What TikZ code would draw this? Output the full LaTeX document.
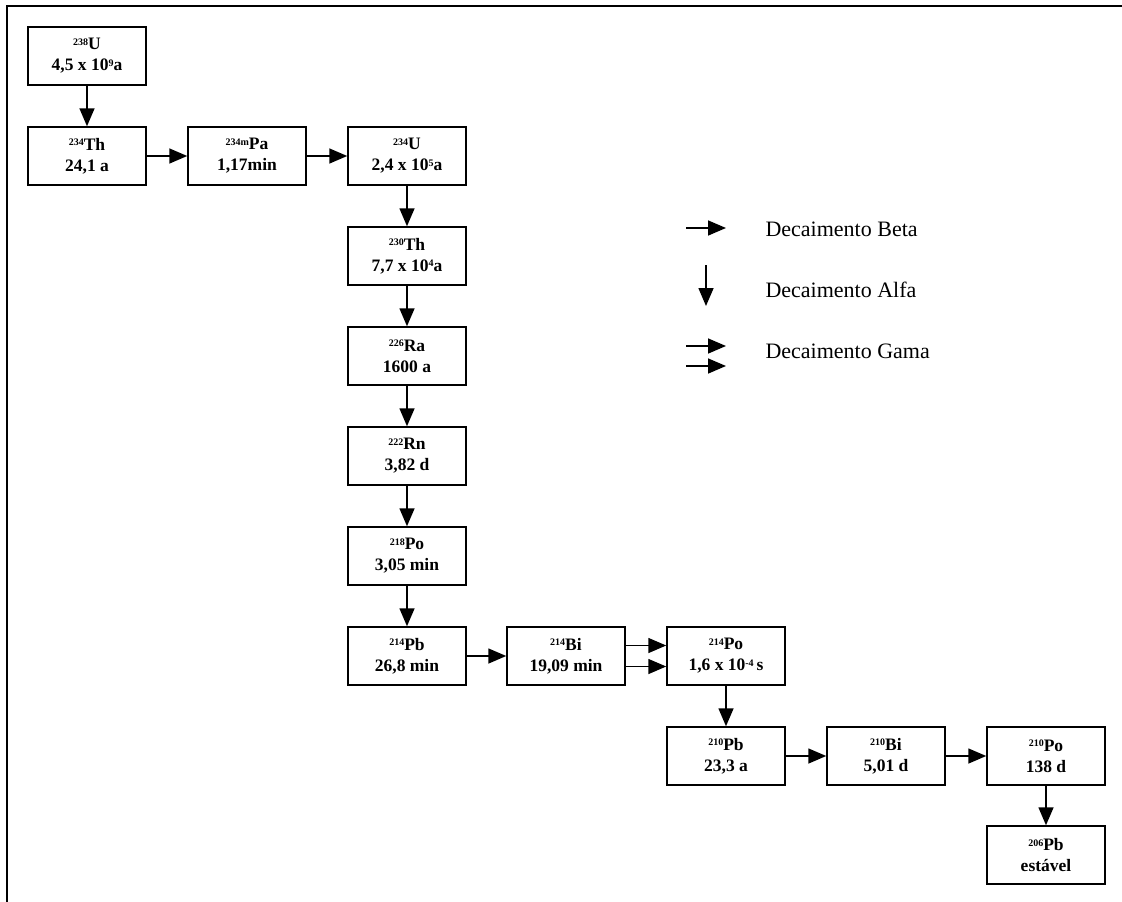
\documentclass[tikz,border=0pt]{standalone}
\usepackage{fontspec}
\setmainfont{Liberation Serif}
\usetikzlibrary{arrows.meta}
\newcommand{\iso}[2]{\raisebox{0.55ex}{\fontsize{10}{10}\selectfont #1}#2}
\newcommand{\pot}[1]{\raisebox{0.55ex}{\fontsize{10}{10}\selectfont #1}}

\begin{document}
\begin{tikzpicture}[
  x=1pt,
  y=-1pt,
  nuclide/.style={draw, line width=1.5pt, minimum width=118pt, minimum height=58pt,
    inner sep=0pt, align=center, font=\fontsize{17.5}{21}\selectfont\bfseries},
  decay/.style={-{Triangle[length=18pt,width=15pt]}, line width=1.6pt},
  legend/.style={anchor=west, font=\fontsize{22}{24}\selectfont}
]
  \useasboundingbox (0,0) rectangle (1122,902);
  \fill[white] (0,0) rectangle (1122,902);
  \draw[line width=2pt] (7,902) -- (7,6) -- (1122,6);

  % cadeia do uranio
  \node[nuclide] (u238)   at (87,56)    {\iso{238}{U}\\4,5 x 10\pot{9}a};
  \node[nuclide] (th234)  at (87,156)   {\iso{234}{Th}\\24,1 a};
  \node[nuclide] (pa234m) at (247,156)  {\iso{234m}{Pa}\\1,17min};
  \node[nuclide] (u234)   at (407,156)  {\iso{234}{U}\\2,4 x 10\pot{5}a};
  \node[nuclide] (th230)  at (407,256)  {\iso{230}{Th}\\7,7 x 10\pot{4}a};
  \node[nuclide] (ra226)  at (407,356)  {\iso{226}{Ra}\\1600 a};
  \node[nuclide] (rn222)  at (407,456)  {\iso{222}{Rn}\\3,82 d};
  \node[nuclide] (po218)  at (407,556)  {\iso{218}{Po}\\3,05 min};
  \node[nuclide] (pb214)  at (407,656)  {\iso{214}{Pb}\\26,8 min};
  \node[nuclide] (bi214)  at (566,656)  {\iso{214}{Bi}\\19,09 min};
  \node[nuclide] (po214)  at (726,656)  {\iso{214}{Po}\\1,6 x 10\pot{-4}\,s};
  \node[nuclide] (pb210)  at (726,756)  {\iso{210}{Pb}\\23,3 a};
  \node[nuclide] (bi210)  at (886,756)  {\iso{210}{Bi}\\5,01 d};
  \node[nuclide] (po210)  at (1046,756) {\iso{210}{Po}\\138 d};
  \node[nuclide] (pb206)  at (1046,855) {\iso{206}{Pb}\\estável};

  \draw[decay] (u238) -- (th234);
  \draw[decay] (th234) -- (pa234m);
  \draw[decay] (pa234m) -- (u234);
  \draw[decay] (u234) -- (th230);
  \draw[decay] (th230) -- (ra226);
  \draw[decay] (ra226) -- (rn222);
  \draw[decay] (rn222) -- (po218);
  \draw[decay] (po218) -- (pb214);
  \draw[decay] (pb214) -- (bi214);
  \draw[decay] ([yshift=10.5pt]bi214.east) -- ([yshift=10.5pt]po214.west);
  \draw[decay] ([yshift=-10.5pt]bi214.east) -- ([yshift=-10.5pt]po214.west);
  \draw[decay] (po214) -- (pb210);
  \draw[decay] (pb210) -- (bi210);
  \draw[decay] (bi210) -- (po210);
  \draw[decay] (po210) -- (pb206);

  % legenda
  \node[legend] (beta) at (762,229) {Decaimento Beta};
  \node[legend] (alfa) at (762,290) {Decaimento Alfa};
  \node[legend] (gama) at (762,351) {Decaimento Gama};
  \coordinate (beta0) at (686,228);
  \coordinate (beta1) at (726,228);
  \coordinate (alfa0) at (706,265);
  \coordinate (alfa1) at (706,306);
  \coordinate (gamaA0) at (686,346);
  \coordinate (gamaA1) at (726,346);
  \coordinate (gamaB0) at (686,366);
  \coordinate (gamaB1) at (726,366);
  \draw[decay] (beta0) -- (beta1);
  \draw[decay] (alfa0) -- (alfa1);
  \draw[decay] (gamaA0) -- (gamaA1);
  \draw[decay] (gamaB0) -- (gamaB1);
\end{tikzpicture}
\end{document}
